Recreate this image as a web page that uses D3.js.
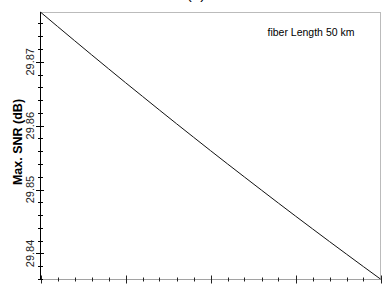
<!DOCTYPE html>
<html><head><meta charset="utf-8">
<script src="https://cdn.jsdelivr.net/npm/d3@7"></script>
<style>body{margin:0;background:#fff}svg{display:block}text{font-family:"Liberation Sans",Arial,sans-serif}</style>
</head><body>
<script>
const xValues = [0,1,2,3,4,5,6,7,8,9,10,11,12,13,14,15,16,17,18,19,20];
const snrValues = [29.87778,29.87554,29.87332,29.87111,29.86892,29.86674,29.86459,29.86244,29.86031,29.85820,29.85610,29.85402,29.85196,29.84991,29.84787,29.84585,29.84385,29.84186,29.83989,29.83793,29.83599];
const yTickValues = [29.84,29.85,29.86,29.87];
const yTickLabels = ["29.84","29.85","29.86","29.87"];
const xMajorTicks = [0,5,10,15,20];
const title = "(b)";
const yTitle = "Max. SNR (dB)";
const annotation = "fiber Length 50 km";

const W=382,H=289;
const svg=d3.select("body").append("svg").attr("width",W).attr("height",H);
const x=d3.scaleLinear().domain([0,20]).range([40.5,380.5]);
const y=d3.scaleLinear().domain([29.836,29.8778]).range([279,12]);

// frame (dotted top/right)
svg.append("line").attr("x1",40.5).attr("x2",380.5).attr("y1",12.5).attr("y2",12.5)
  .attr("stroke","#777").attr("stroke-dasharray","1,1");
svg.append("line").attr("x1",380.5).attr("x2",380.5).attr("y1",12.5).attr("y2",279.5)
  .attr("stroke","#777").attr("stroke-dasharray","1,1");

// bottom axis (dotted line + ticks, no labels)
const gx=svg.append("g").attr("transform","translate(0,279.5)");
gx.append("line").attr("x1",40.5).attr("x2",380.5).attr("stroke","#444").attr("stroke-dasharray","1,1");
const minorX=d3.range(0,21,1);
gx.selectAll("line.mn").data(minorX).join("line").attr("class","mn")
  .attr("x1",d=>Math.round(x(d))+0.5).attr("x2",d=>Math.round(x(d))+0.5)
  .attr("y1",-2).attr("y2",2).attr("stroke","#222");
gx.selectAll("line.mj").data(xMajorTicks).join("line").attr("class","mj")
  .attr("x1",d=>Math.round(x(d))+0.5).attr("x2",d=>Math.round(x(d))+0.5)
  .attr("y1",-4).attr("y2",4).attr("stroke","#222");

// left axis
const gy=svg.append("g");
gy.append("line").attr("x1",40.5).attr("x2",40.5).attr("y1",12).attr("y2",279.5).attr("stroke","#000");
const minorY=d3.range(29.836,29.8779,0.002);
gy.selectAll("line.mn").data(minorY).join("line").attr("class","mn")
  .attr("x1",38).attr("x2",43)
  .attr("y1",d=>Math.round(y(d))+0.5).attr("y2",d=>Math.round(y(d))+0.5).attr("stroke","#000");
gy.selectAll("line.mj").data(yTickValues).join("line").attr("class","mj")
  .attr("x1",36).attr("x2",44)
  .attr("y1",d=>Math.round(y(d))+0.5).attr("y2",d=>Math.round(y(d))+0.5).attr("stroke","#000");
gy.selectAll("text.tl").data(yTickValues).join("text").attr("class","tl")
  .attr("transform",d=>`translate(33.5,${y(d)}) rotate(-90)`)
  .attr("text-anchor","middle").attr("font-size","11px").attr("fill","#222")
  .text((d,i)=>yTickLabels[i]);

// y title
svg.append("text").attr("transform","translate(21.5,142) rotate(-90)")
  .attr("text-anchor","middle").attr("font-size","12.5px").attr("font-weight","bold").attr("fill","#000")
  .text(yTitle);

// title (cut off at top)
svg.append("text").attr("x",196).attr("y",-1).attr("text-anchor","middle")
  .attr("font-size","15px").attr("fill","#000").text(title);

// annotation
svg.append("text").attr("x",267.5).attr("y",36).attr("font-size","10.5px").attr("fill","#000").text(annotation);

// data line
const line=d3.line().x((d,i)=>x(xValues[i])).y(d=>y(d));
svg.append("path").datum(snrValues).attr("d",line).attr("fill","none").attr("stroke","#111").attr("stroke-width",1);
</script>
</body></html>
